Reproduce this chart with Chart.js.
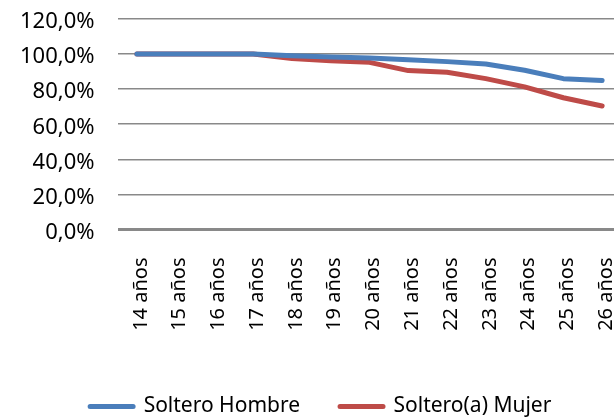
<!DOCTYPE html>
<html>
<head>
<meta charset="utf-8">
<script src="https://cdn.jsdelivr.net/npm/chart.js@4/dist/chart.umd.min.js"></script>
<style>
html,body{margin:0;padding:0;background:#fff;overflow:hidden;width:614px;height:420px;}
#wrap{position:absolute;left:0;top:0;}
</style>
</head>
<body>
<div id="wrap"><canvas id="c" width="624" height="427"></canvas></div>
<script>
const categories = ["14 años","15 años","16 años","17 años","18 años","19 años","20 años","21 años","22 años","23 años","24 años","25 años","26 años"];
const solteroHombre = [100, 100, 100, 100, 99.1, 98.3, 97.7, 96.8, 95.7, 94.3, 90.8, 86.0, 84.9];
const solteroMujer  = [100, 100, 100, 100, 97.5, 96.2, 95.3, 90.6, 89.6, 86.0, 81.3, 75.1, 70.4];
const yTicks = [0, 20, 40, 60, 80, 100, 120];

const FONT = "'Noto Sans', 'Open Sans', sans-serif";

new Chart(document.getElementById('c'), {
  type: 'line',
  data: {
    labels: categories,
    datasets: [
      { label: 'Soltero Hombre', data: solteroHombre, borderColor: '#4a7ebb', backgroundColor: '#4a7ebb',
        borderWidth: 5, pointRadius: 0, tension: 0, borderCapStyle: 'round', borderJoinStyle: 'round' },
      { label: 'Soltero(a) Mujer', data: solteroMujer, borderColor: '#be4b48', backgroundColor: '#be4b48',
        borderWidth: 5, pointRadius: 0, tension: 0, borderCapStyle: 'round', borderJoinStyle: 'round' }
    ]
  },
  options: {
    responsive: false,
    animation: false,
    devicePixelRatio: 1,
    layout: { padding: { left: 20, right: 2.5, top: 19, bottom: 0 } },
    plugins: {
      tooltip: { enabled: false },
      legend: {
        position: 'bottom',
        labels: {
          color: '#000',
          font: { family: FONT, size: 21 },
          boxWidth: 43, boxHeight: 0,
          padding: 40
        }
      }
    },
    scales: {
      x: {
        offset: true,
        grid: { display: false, drawTicks: false },
        border: { display: false },
        ticks: { color: '#000', font: { family: FONT, size: 20 }, maxRotation: 90, minRotation: 90, padding: 28, labelOffset: 4, autoSkip: false },
        afterFit: (s) => { s.height = 126.5; s.paddingLeft = 0; s.paddingRight = 0; }
      },
      y: {
        min: 0, max: 120,
        afterBuildTicks: (s) => { s.ticks = yTicks.map(v => ({ value: v })); },
        grid: {
          drawTicks: false,
          color: '#898989',
          lineWidth: (ctx) => ctx.tick && ctx.tick.value === 0 ? 3 : 1.6
        },
        border: { display: false },
        ticks: {
          color: '#000', font: { family: FONT, size: 22 }, padding: 23, labelOffset: 3,
          callback: (v) => v.toFixed(1).replace('.', ',') + '%'
        },
        afterFit: (s) => { s.width = 97.5; s.paddingTop = 0; s.paddingBottom = 0; }
      }
    }
  }
});
</script>
</body>
</html>
